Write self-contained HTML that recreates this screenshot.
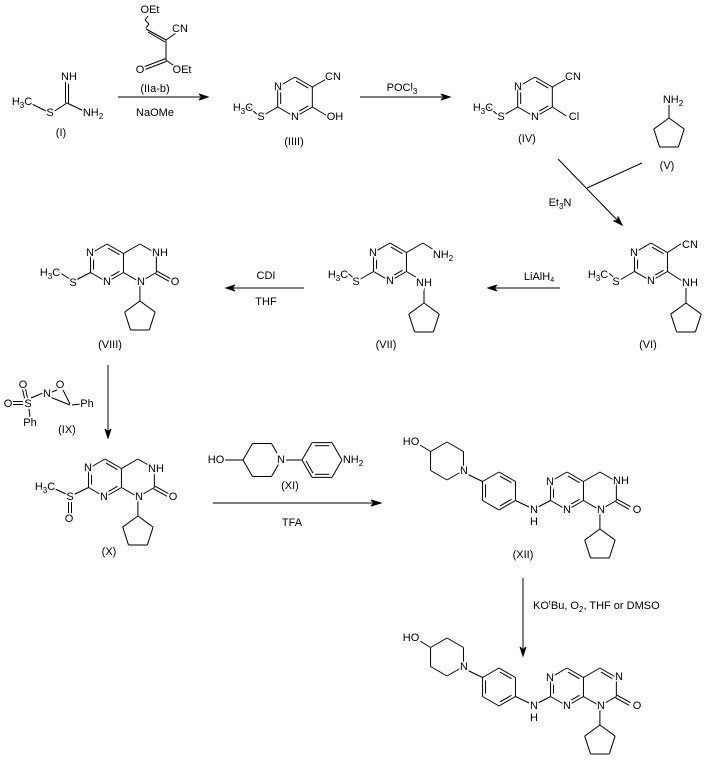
<!DOCTYPE html>
<html><head><meta charset="utf-8"><style>
html,body{margin:0;padding:0;background:#fff}
svg{display:block}
text{font-family:"Liberation Sans",sans-serif;font-size:11px;fill:#000;text-anchor:middle;dominant-baseline:central;stroke:#fff;stroke-width:3px;paint-order:stroke}
.n{stroke:none}
</style></head><body>
<svg id="s" width="714" height="769" viewBox="0 0 714 769" xmlns="http://www.w3.org/2000/svg">
<g id="g" stroke="#000" stroke-width="1" fill="none"></g>
<g id="t">
<!-- I -->
<text x="22" y="102">H<tspan font-size="8" dy="3">3</tspan><tspan dy="-3">C</tspan></text>
<text x="50" y="113">S</text>
<text x="69" y="77">NH</text>
<text x="93" y="113">NH<tspan font-size="8" dy="3">2</tspan></text>
<text x="61" y="133">(I)</text>
<!-- II -->
<text x="150" y="10">OEt</text>
<text x="180" y="29">CN</text>
<text x="140" y="70">O</text>
<text x="182" y="70">OEt</text>
<text x="155" y="89">(IIa-b)</text>
<text x="155" y="113">NaOMe</text>
<!-- III -->
<text x="243" y="108">H<tspan font-size="8" dy="3">3</tspan><tspan dy="-3">C</tspan></text>
<text x="261" y="117">S</text>
<text x="278" y="87">N</text>
<text x="295" y="117">N</text>
<text x="333" y="77">CN</text>
<text x="335" y="117">OH</text>
<text x="294" y="142">(IIII)</text>
<text x="402" y="88">POCl<tspan font-size="8" dy="3">3</tspan></text>
<!-- IV -->
<text x="483" y="108">H<tspan font-size="8" dy="3">3</tspan><tspan dy="-3">C</tspan></text>
<text x="501" y="117">S</text>
<text x="518" y="87">N</text>
<text x="535" y="117">N</text>
<text x="573" y="77">CN</text>
<text x="574" y="117">Cl</text>
<text x="527" y="139">(IV)</text>
<!-- V -->
<text x="673" y="100">NH<tspan font-size="8" dy="3">2</tspan></text>
<text x="667" y="166">(V)</text>
<text x="560" y="203">Et<tspan font-size="8" dy="3">3</tspan><tspan dy="-3">N</tspan></text>
<!-- VI -->
<text x="598" y="275">H<tspan font-size="8" dy="3">3</tspan><tspan dy="-3">C</tspan></text>
<text x="616" y="282">S</text>
<text x="634" y="253">N</text>
<text x="651" y="281">N</text>
<text x="690" y="245">CN</text>
<text x="690" y="283">NH</text>
<text x="648" y="345">(VI)</text>
<text x="539" y="277">LiAlH<tspan font-size="7" dy="3">4</tspan></text>
<!-- VII -->
<text x="338" y="275">H<tspan font-size="8" dy="3">3</tspan><tspan dy="-3">C</tspan></text>
<text x="356" y="282">S</text>
<text x="373" y="253">N</text>
<text x="390" y="281">N</text>
<text x="443" y="255">NH<tspan font-size="8" dy="3">2</tspan></text>
<text x="424" y="283">NH</text>
<text x="386" y="345">(VII)</text>
<text x="266" y="276">CDI</text>
<text x="266" y="302">THF</text>
<!-- VIII -->
<text x="50" y="273">H<tspan font-size="8" dy="3">3</tspan><tspan dy="-3">C</tspan></text>
<text x="73" y="283">S</text>
<text x="90" y="253">N</text>
<text x="107" y="282">N</text>
<text x="160" y="253">NH</text>
<text x="175" y="282">O</text>
<text x="141" y="282">N</text>
<text x="110" y="345">(VIII)</text>
<!-- IX -->
<text x="60" y="385">O</text>
<text x="47" y="394">N</text>
<text x="87" y="404">Ph</text>
<text x="28" y="404">S</text>
<text x="8" y="404">O</text>
<text x="23" y="385">O</text>
<text x="30" y="423">Ph</text>
<text x="67" y="430">(IX)</text>
<!-- X -->
<text x="45" y="487">H<tspan font-size="8" dy="3">3</tspan><tspan dy="-3">C</tspan></text>
<text x="70" y="497">S</text>
<text x="69" y="519">O</text>
<text x="88" y="468">N</text>
<text x="104" y="497">N</text>
<text x="156" y="469">NH</text>
<text x="173" y="497">O</text>
<text x="139" y="497">N</text>
<text x="109" y="552">(X)</text>
<!-- XI -->
<text x="216" y="460">HO</text>
<text x="281" y="460">N</text>
<text x="353" y="460">NH<tspan font-size="8" dy="3">2</tspan></text>
<text x="290" y="486">(XI)</text>
<text x="292" y="523">TFA</text>
<!-- XII -->
<text x="411" y="442">HO</text>
<text x="464" y="471">N</text>
<text x="534" y="510">N</text>
<text x="534" y="522">H</text>
<text x="550" y="482">N</text>
<text x="567" y="510">N</text>
<text x="621" y="481">NH</text>
<text x="637" y="510">O</text>
<text x="601" y="510">N</text>
<text x="523" y="555">(XII)</text>
<text x="533" y="606" style="text-anchor:start">KO<tspan font-size="7" dy="-3">t</tspan><tspan dy="3">Bu, O</tspan><tspan font-size="8" dy="3">2</tspan><tspan dy="-3">, THF or DMSO</tspan></text>
<!-- final -->
<text x="411" y="638">HO</text>
<text x="464" y="667">N</text>
<text x="534" y="706">N</text>
<text x="534" y="718">H</text>
<text x="550" y="678">N</text>
<text x="567" y="706">N</text>
<text x="619" y="677">N</text>
<text x="637" y="706">O</text>
<text x="601" y="706">N</text>
</g>
</svg>
<script>
const g=document.getElementById('g');const NS='http://www.w3.org/2000/svg';
function L(a,b,c,d){const e=document.createElementNS(NS,'line');e.setAttribute('x1',a);e.setAttribute('y1',b);e.setAttribute('x2',c);e.setAttribute('y2',d);g.appendChild(e);}
function Lp(p,q){L(p[0],p[1],q[0],q[1]);}
function D(p,q,c){let mx=(p[0]+q[0])/2,my=(p[1]+q[1])/2;let dx=c[0]-mx,dy=c[1]-my,l=Math.hypot(dx,dy);let ox=dx/l*3,oy=dy/l*3;let s=0.15;
L(p[0]+(q[0]-p[0])*s+ox,p[1]+(q[1]-p[1])*s+oy,q[0]+(p[0]-q[0])*s+ox,q[1]+(p[1]-q[1])*s+oy);}
function DO(p,q){let dx=q[0]-p[0],dy=q[1]-p[1],l=Math.hypot(dx,dy);let nx=-dy/l*1.5,ny=dx/l*1.5;L(p[0]+nx,p[1]+ny,q[0]+nx,q[1]+ny);L(p[0]-nx,p[1]-ny,q[0]-nx,q[1]-ny);}
function hex(cx,cy,b){const h=0.866*b;return [[cx,cy-b],[cx+h,cy-b/2],[cx+h,cy+b/2],[cx,cy+b],[cx-h,cy+b/2],[cx-h,cy-b/2]];}
function fhex(cx,cy,r){let v=[];for(let i=0;i<6;i++){let a=Math.PI/3*i+Math.PI;v.push([cx+r*Math.cos(a),cy+r*Math.sin(a)]);}return v;} // 0 left,1 ul,2 ur,3 right,4 lr,5 ll
function ring(v){for(let i=0;i<v.length;i++)Lp(v[i],v[(i+1)%v.length]);}
function pent(tx,ty,r){let cx=tx,cy=ty+r,v=[];for(let i=0;i<5;i++){let a=-Math.PI/2+i*2*Math.PI/5;v.push([cx+r*Math.cos(a),cy+r*Math.sin(a)]);}ring(v);}
function arrow(x1,y1,x2,y2){L(x1,y1,x2,y2);let dx=x2-x1,dy=y2-y1,l=Math.hypot(dx,dy),ux=dx/l,uy=dy/l;let p=document.createElementNS(NS,'polygon');
let bx=x2-ux*9,by=y2-uy*9;p.setAttribute('points',`${x2},${y2} ${bx-uy*3},${by+ux*3} ${x2-ux*6},${y2-uy*6} ${bx+uy*3},${by-ux*3}`);p.setAttribute('fill','#000');g.appendChild(p);}
// monocyclic pyrimidine
function pyr(cx,cy,b,sx){const v=hex(cx,cy,b);ring(v);const c=[cx,cy];D(v[5],v[4],c);D(v[0],v[1],c);D(v[3],v[2],c);
 Lp(v[4],[v[4][0]-0.866*b,v[4][1]+b/2]);Lp([v[4][0]-0.866*b,v[4][1]+b/2],[v[4][0]-1.732*b+3,v[4][1]-2]);return v;}
// I
L(30,103,48,112);L(53,112,67,103);DO([67,103],[67,82]);L(67,103,86,112);
// II
// wavy
L(148,16,145,20);L(145,20,149,24);L(149,24,146,28);
L(146,29,166,40);L(148,32,165,42);L(166,40,176,33);L(166,40,166,60);DO([166,60],[145,68]);L(166,60,177,68);
arrow(118,97,208,97);
// III
let v=pyr(295,97,20);Lp(v[1],[v[1][0]+14,v[1][1]-8]);Lp(v[2],[v[2][0]+15,v[2][1]+9]);
arrow(360,97,450,97);
v=pyr(535,97,20);Lp(v[1],[v[1][0]+14,v[1][1]-8]);Lp(v[2],[v[2][0]+14,v[2][1]+9]);
// V
pent(669,118,16);L(669,105,669,118);
// Et3N arrow
arrow(558,159,622,225);L(642,163,587,188);
// VI
v=pyr(651,262,19);Lp(v[1],[v[1][0]+14,v[1][1]-9]);Lp(v[2],[v[2][0]+14,v[2][1]+9]);L(686,288,686,303);pent(686,303,16);
arrow(560,288,488,288);
// VII
v=pyr(390,262,19);Lp(v[1],[423,243]);L(423,243,434,250);Lp(v[2],[419,279]);L(424,288,424,303);pent(424,303,16);
arrow(304,288,226,288);
// bicyclic
function bic(cx,cy,b,arom){const A=hex(cx,cy,b),B=hex(cx+1.732*b,cy,b);ring(A);const c=[cx,cy],c2=[cx+1.732*b,cy];
 D(A[5],A[4],c);D(A[0],A[1],c);D(A[3],A[2],c);
 Lp(B[5],B[0]);Lp(B[0],B[1]);Lp(B[1],B[2]);Lp(B[2],B[3]);Lp(B[3],B[4]);
 if(arom)D(B[0],B[1],c2);
 const O=[B[2][0]+0.866*b-3,B[2][1]+b/2-2];DO(B[2],O);
 Lp(B[3],[B[3][0],B[3][1]+b]);pent(B[3][0],B[3][1]+b,16);return A;}
let A=bic(107,263,19);Lp(A[4],[76,280]);L(70,279,57,271);
arrow(108,365,108,438);
// IX
L(31,398,43,393);L(52,392,57,390);L(63,390,70,404);L(50,397,70,405);L(72,405,81,404);DO([8+5,403],[23,403]);DO([24,389],[26,398]);L(29,409,30,417);
// X
A=bic(105,478,19);Lp(A[4],[73,495]);L(66,494,53,488);DO([70,502],[70,513]);
// XI
let P=fhex(262,460,19);ring(P);L(224,460,243,460);L(286,460,302,460);
let Bz=fhex(322,460,20);ring(Bz);D(Bz[1],Bz[2],[322,460]);D(Bz[4],Bz[5],[322,460]);D(Bz[0],Bz[5],[322,460]);L(342,460,344,460);
L(213,503,380,503);let ah=document.createElementNS(NS,'polygon');ah.setAttribute('points','381,503 371,500 374,503 371,506');ah.setAttribute('fill','#000');g.appendChild(ah);
// XII and final
function big(dy,arom){A=bic(567,491+dy,19,arom);Lp(A[4],[538,507+dy]);
 const bz=hex(499,491+dy,19);ring(bz);const c=[499,491+dy];D(bz[0],bz[1],c);D(bz[2],bz[3],c);D(bz[4],bz[5],c);
 Lp(bz[2],[529,507+dy]);Lp(bz[5],[467,474+dy]);
 const pp=hex(447,461+dy,19);ring(pp);Lp(pp[5],[420,445+dy]);}
big(0,false);
arrow(523,578,523,656);
big(196,true);
</script>
</body></html>
